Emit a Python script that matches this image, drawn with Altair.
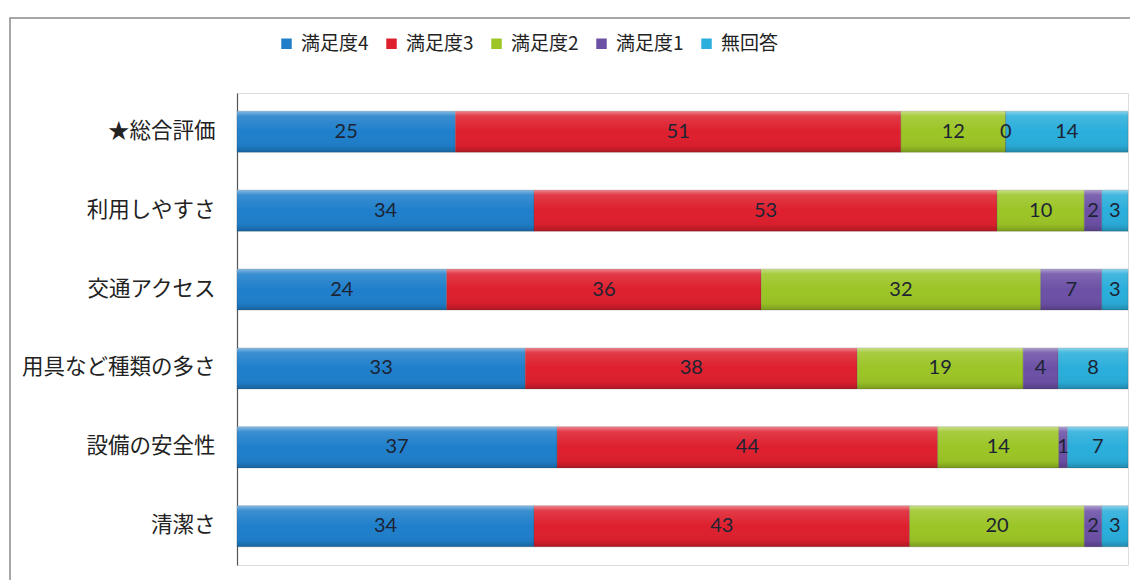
import altair as alt
import pandas as pd

categories = ["★総合評価", "利用しやすさ", "交通アクセス", "用具など種類の多さ", "設備の安全性", "清潔さ"]
series = ["満足度4", "満足度3", "満足度2", "満足度1", "無回答"]
s4 = [25, 34, 24, 33, 37, 34]
s3 = [51, 53, 36, 38, 44, 43]
s2 = [12, 10, 32, 19, 14, 20]
s1 = [0, 2, 7, 4, 1, 2]
na = [14, 3, 3, 8, 7, 3]
colors = ["#1f7fcb", "#de1f2e", "#9cc526", "#6c50a6", "#2aaedb"]

rows = []
for si, (name, vals) in enumerate(zip(series, [s4, s3, s2, s1, na])):
    for ci, cat in enumerate(categories):
        rows.append({"cat": cat, "series": name, "order": si, "value": vals[ci]})
df = pd.DataFrame(rows)

base = alt.Chart(df).transform_stack(
    stack="value", groupby=["cat"], as_=["x0", "x1"], offset="normalize",
    sort=[alt.SortField("order", order="ascending")]
)

yenc = alt.Y("cat:N", sort=categories, title=None,
             scale=alt.Scale(paddingInner=0.48, paddingOuter=0.23),
             axis=alt.Axis(labelFont="Noto Sans CJK JP", labelFontSize=21.5, labelColor="#222222",
                           labelPadding=22, labelLimit=400, ticks=False,
                           domainColor="#555555", domainWidth=1.2))

xenc = alt.X("x0:Q", scale=alt.Scale(domain=[0, 1]), axis=None, title=None)

bars = base.mark_bar(stroke="#3a3a3a", strokeWidth=0.4, strokeOpacity=0.5).encode(
    y=yenc,
    x=xenc,
    x2="x1:Q",
    color=alt.Color("series:N", sort=series,
                    scale=alt.Scale(domain=series, range=colors),
                    legend=alt.Legend(title=None, orient="none", direction="horizontal",
                                      legendX=40, legendY=-59, symbolType="square",
                                      symbolSize=110, symbolStrokeWidth=0,
                                      labelFont="Noto Sans CJK JP", labelFontSize=19,
                                      labelColor="#222222", columnPadding=13, labelOffset=5)),
)

shine = base.mark_bar(
    fill=alt.LinearGradient(
        gradient="linear", x1=0, y1=0, x2=0, y2=1,
        stops=[alt.GradientStop(offset=0, color="rgba(255,255,255,0.45)"),
               alt.GradientStop(offset=0.12, color="rgba(255,255,255,0.12)"),
               alt.GradientStop(offset=0.5, color="rgba(255,255,255,0)"),
               alt.GradientStop(offset=0.85, color="rgba(0,0,0,0.04)"),
               alt.GradientStop(offset=1, color="rgba(0,0,0,0.22)")]),
).encode(y=alt.Y("cat:N", sort=categories), x=xenc, x2="x1:Q")

labels = base.transform_calculate(mid="(datum.x0 + datum.x1) / 2").mark_text(
    font="Lato", fontSize=20, color="#1c2433", align="center", baseline="middle"
).encode(
    y=alt.Y("cat:N", sort=categories),
    x=alt.X("mid:Q", scale=alt.Scale(domain=[0, 1])),
    text=alt.Text("value:Q"),
)

frame = alt.Chart(alt.Data(values=[{}])).mark_rect(
    fill="transparent", stroke="#8a8a8a", strokeWidth=1.5
).encode(x=alt.value(-227), x2=alt.value(1200), y=alt.value(-75), y2=alt.value(700))

title = alt.Chart(alt.Data(values=[{"t": "3. 設備の満足度"}])).mark_text(
    font="Noto Sans CJK JP", fontSize=24, color="#333333", align="left", baseline="bottom"
).encode(text="t:N", x=alt.value(-220), y=alt.value(-83))

chart = alt.layer(frame, title, bars, shine, labels).properties(
    width=891, height=472,
    autosize=alt.AutoSizeParams(type="none"),
    padding={"left": 229, "top": 85, "right": 2, "bottom": 15},
).configure_view(stroke=None).configure(background="white")

chart.save("out.html", embed_options={"renderer": "svg", "actions": False})
